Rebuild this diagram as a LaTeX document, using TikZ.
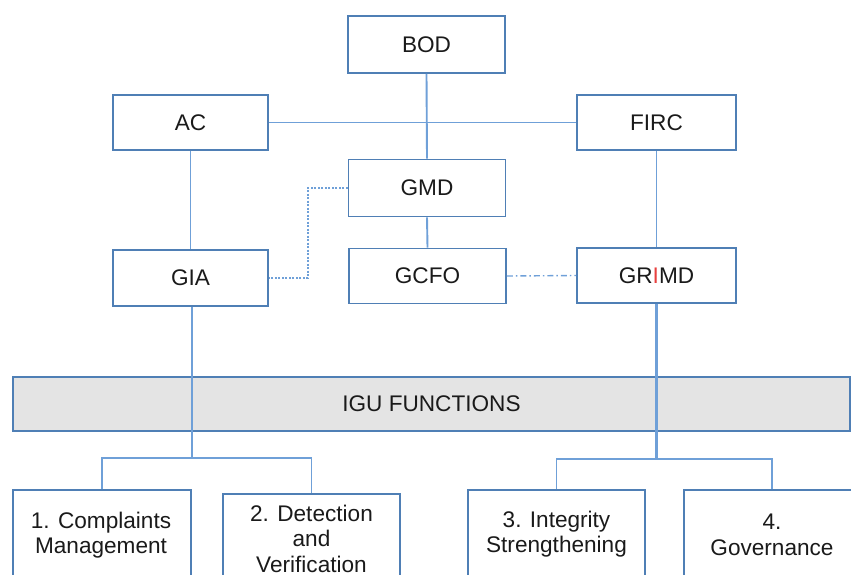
\documentclass[tikz,border=0pt]{standalone}
\usepackage{fontspec}
\setmainfont{Liberation Sans}
\definecolor{boxc}{HTML}{4F7FB5}
\definecolor{linec}{HTML}{6FA0D8}
\definecolor{bandc}{HTML}{E4E4E4}
\definecolor{txt}{HTML}{1A1A1A}
\definecolor{redI}{HTML}{E8403F}
\begin{document}
\begin{tikzpicture}[x=1pt,y=-1pt,
  box/.style={draw=boxc, line width=1.8pt, fill=white, inner sep=0pt,
    font=\fontsize{22.6}{25.5}\selectfont, text=txt},
  lbl/.style={align=center, inner sep=0pt, font=\fontsize{22.6}{25.5}\selectfont, text=txt},
  con/.style={draw=linec, line width=1.9pt},
  trunk/.style={draw=linec, line width=2.6pt},
  dots/.style={draw=linec, line width=1.8pt, dash pattern=on 2pt off 1.5pt},
  dashdot/.style={draw=linec, line width=1.4pt, dash pattern=on 6pt off 3pt on 1.5pt off 3pt}]
\useasboundingbox (0,0) rectangle (851,574);
\clip (0,0) rectangle (851,574);

% top boxes
\node[box, minimum width=157pt, minimum height=57pt] (BOD) at (426.5,44.5) {BOD};
\node[box, minimum width=155pt, minimum height=55pt] (AC) at (190.5,122.5) {AC};
\node[box, minimum width=159pt, minimum height=55pt] (FIRC) at (656.5,122.5) {FIRC};
\node[box, minimum width=157pt, minimum height=57pt] (GMD) at (427,188) {GMD};
\node[box, minimum width=157pt, minimum height=55pt] (GCFO) at (427.5,276) {GCFO};
\node[box, minimum width=155pt, minimum height=56pt] (GIA) at (190.5,278) {GIA};
\node[box, minimum width=159pt, minimum height=55pt] (GRIMD) at (656.5,275.5) {GR{\color{redI}I}MD};

% band
\node[box, fill=bandc, minimum width=837pt, minimum height=54pt] (IGU) at (431.5,404) {IGU FUNCTIONS};

% bottom boxes
\node[box, minimum width=178pt, minimum height=120pt] (B1) at (102,550) {};
\node[box, minimum width=177pt, minimum height=120pt] (B2) at (311.5,554) {};
\node[box, minimum width=177pt, minimum height=120pt] (B3) at (556.5,550) {};
\node[box, minimum width=176pt, minimum height=120pt] (B4) at (772,550) {};
\node[lbl] (T1) at (101,535) {1. Complaints\\Management};
\node[lbl] (T2) at (311.5,538.5) {2. Detection\\and\\Verification};
\node[lbl] (T3) at (556.5,534) {3. Integrity\\Strengthening};
\node[lbl] (T4) at (772,535) {4.\\Governance};

% connectors
\draw[con] (BOD.south) -- (GMD.north);
\draw[con] (AC.east) -- (FIRC.west);
\draw[con] (AC.south) -- (GIA.north);
\draw[con] (FIRC.south) -- (GRIMD.north);
\draw[con] (GMD.south) -- (GCFO.north);
\draw[dots] (GMD.west) -- ++(-40,0) |- (GIA.east);
\draw[dashdot] (GCFO.east) -- (GRIMD.west);

\coordinate (J1) at (192,458);
\coordinate (J2) at (656.5,459);
\draw[trunk] (GIA.south -| J1) -- (J1);
\draw[trunk] (GRIMD.south) -- (J2);
\draw[con] (B1.north) |- (J1) -| (B2.north);
\draw[con] (B3.north) |- (J2) -| (B4.north);
\end{tikzpicture}
\end{document}
